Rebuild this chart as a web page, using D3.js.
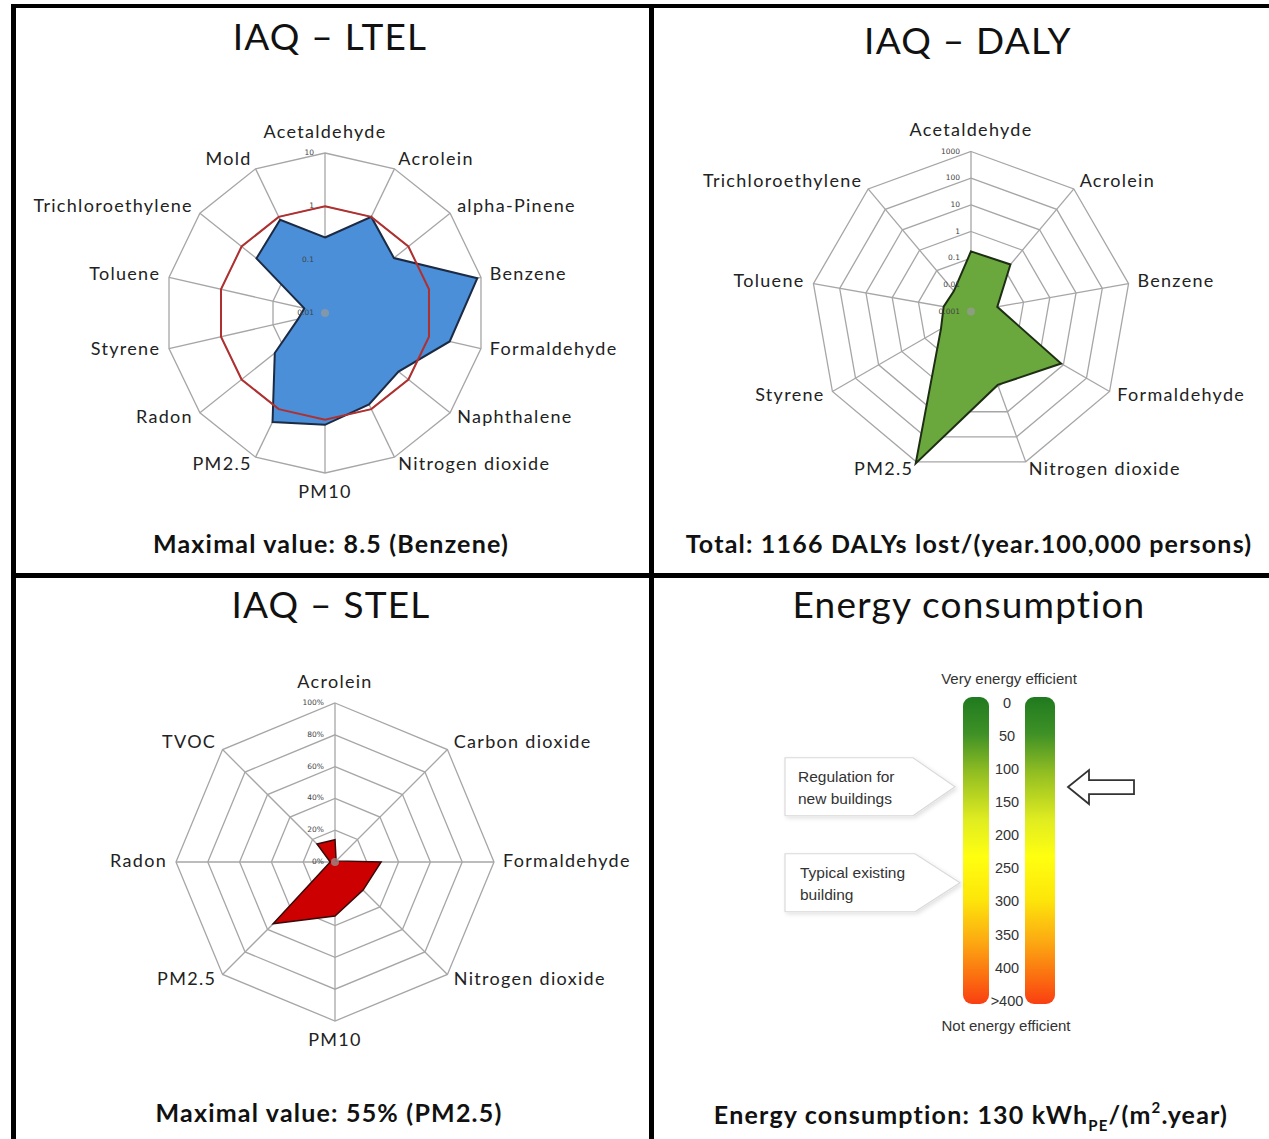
<!DOCTYPE html>
<html><head><meta charset="utf-8">
<script src="https://cdn.jsdelivr.net/npm/d3@7"></script>
<style>
html,body{margin:0;padding:0;background:#fff;}
svg{display:block;}
</style></head>
<body>
<svg id="chart" width="1269" height="1139"></svg>
<script>
// ---------- DATA ----------
const ltelCategories = ["Acetaldehyde","Acrolein","alpha-Pinene","Benzene","Formaldehyde","Naphthalene","Nitrogen dioxide","PM10","PM2.5","Radon","Styrene","Toluene","Trichloroethylene","Mold"];
const ltelValues = [0.26, 1.0, 0.45, 8.5, 2.5, 0.58, 0.8, 1.25, 1.85, 0.16, 0.033, 0.025, 0.44, 0.87];
const ltelLimit = [1,1,1,1,1,1,1,1,1,1,1,1,1,1];
const ltelTicks = [0.01, 0.1, 1, 10];
const ltelTickLabels = ["0.01","0.1","1","10"];

const dalyCategories = ["Acetaldehyde","Acrolein","Benzene","Formaldehyde","Nitrogen dioxide","PM2.5","Styrene","Toluene","Trichloroethylene"];
const dalyValues = [0.18, 0.2, 0.01, 8, 0.85, 1155, 0.02, 0.011, 0.01];
const dalyTicks = [0.001, 0.01, 0.1, 1, 10, 100, 1000];
const dalyTickLabels = ["0.001","0.01","0.1","1","10","100","1000"];

const stelCategories = ["Acrolein","Carbon dioxide","Formaldehyde","Nitrogen dioxide","PM10","PM2.5","Radon","TVOC"];
const stelValues = [14, 1, 29, 25, 34, 55, 3, 16];
const stelTicks = [0, 20, 40, 60, 80, 100];
const stelTickLabels = ["0%","20%","40%","60%","80%","100%"];

const energyTickValues = [0, 50, 100, 150, 200, 250, 300, 350, 400, 450];
const energyTickLabels = ["0","50","100","150","200","250","300","350","400",">400"];
const energyCurrent = 130;
const energyRegulation = 125;
const energyTypical = 270;
const energyCalloutTexts = [["Regulation for","new buildings"],["Typical existing","building"]];

const titles = ["IAQ \u2013 LTEL","IAQ \u2013 DALY","IAQ \u2013 STEL","Energy consumption"];

// ---------- DRAW ----------
const svg = d3.select("#chart");
const LAB_FONT = "Lato, 'Open Sans', sans-serif";

function radar(opt){
  const g = svg.append("g");
  const n = opt.categories.length;
  const ang = i => i * 2 * Math.PI / n;
  const r = opt.scale;
  const pt = (i, rad) => [opt.cx + rad * Math.sin(ang(i)), opt.cy - rad * Math.cos(ang(i))];
  opt.ticks.forEach((t, k) => {
    const rr = r(t);
    if (rr <= 0.5) return;
    g.append("polygon")
      .attr("points", d3.range(n).map(i => pt(i, rr).join(",")).join(" "))
      .attr("fill", "none").attr("stroke", "#a6a6a6").attr("stroke-width", 1.3);
  });
  d3.range(n).forEach(i => {
    const p = pt(i, opt.R);
    g.append("line").attr("x1", opt.cx).attr("y1", opt.cy).attr("x2", p[0]).attr("y2", p[1])
      .attr("stroke", "#a6a6a6").attr("stroke-width", 1.3);
  });
  opt.series.forEach(s => {
    const pts = s.values.map((v, i) => pt(i, Math.max(0, r(v))));
    g.append("polygon").attr("points", pts.map(p => p.join(",")).join(" "))
      .attr("fill", s.fill).attr("stroke", s.stroke).attr("stroke-width", s.sw)
      .attr("stroke-linejoin", "miter");
  });
  g.append("circle").attr("cx", opt.cx).attr("cy", opt.cy).attr("r", 4).attr("fill", "#9a9a9a").attr("opacity", 0.7);
  opt.ticks.forEach((t, k) => {
    g.append("text").attr("x", opt.cx - 11).attr("y", opt.cy - r(t))
      .attr("text-anchor", "end").attr("dominant-baseline", "middle")
      .attr("font-family", "'DejaVu Sans', sans-serif").attr("font-size", 7.5).attr("fill", "#444")
      .text(opt.tickLabels[k]);
  });
  opt.categories.forEach((c, i) => {
    const s = Math.sin(ang(i)), co = Math.cos(ang(i));
    const rr = opt.R + 9;
    let x = opt.cx + rr * s, y = opt.cy - rr * co;
    let anchor = "middle";
    if (Math.abs(s) < 0.1) { y -= co * 11; }
    else if (s > 0) { anchor = "start"; }
    else { anchor = "end"; }
    g.append("text").attr("x", x).attr("y", y).attr("text-anchor", anchor)
      .attr("dominant-baseline", "middle")
      .attr("font-family", LAB_FONT).attr("font-size", 18).attr("letter-spacing", 1.3)
      .attr("fill", "#222").text(c);
  });
}

radar({cx: 325, cy: 313, R: 160, categories: ltelCategories,
  scale: d3.scaleLog().domain([0.01, 10]).range([0, 160]).clamp(true),
  ticks: ltelTicks, tickLabels: ltelTickLabels,
  series: [
    {values: ltelValues, fill: "#4a8fd8", stroke: "#1c2a44", sw: 2},
    {values: ltelLimit, fill: "none", stroke: "#b03030", sw: 2}
  ]});
radar({cx: 971, cy: 311.5, R: 160, categories: dalyCategories,
  scale: d3.scaleLog().domain([0.001, 1000]).range([0, 160]).clamp(false),
  ticks: dalyTicks, tickLabels: dalyTickLabels,
  series: [{values: dalyValues, fill: "#6aa83e", stroke: "#1e2e14", sw: 2}]});
radar({cx: 335, cy: 862, R: 159, categories: stelCategories,
  scale: d3.scaleLinear().domain([0, 100]).range([0, 159]),
  ticks: stelTicks, tickLabels: stelTickLabels,
  series: [{values: stelValues, fill: "#cc0000", stroke: "#3a0a0a", sw: 1.5}]});

// ---------- ENERGY ----------
const ey = d3.scaleLinear().domain([0, 400]).range([704, 968.8]);
const defs = svg.append("defs");
const grad = defs.append("linearGradient").attr("id", "eg").attr("x1", 0).attr("y1", 0).attr("x2", 0).attr("y2", 1);
[["0%","#1f7a1f"],["12%","#3f9126"],["25%","#94bf22"],["40%","#e0ec20"],["52%","#ffff10"],["66%","#fde60a"],["80%","#fca812"],["92%","#fb6a10"],["100%","#f93f12"]]
  .forEach(s => grad.append("stop").attr("offset", s[0]).attr("stop-color", s[1]));
const filt = defs.append("filter").attr("id", "sh").attr("x", "-10%").attr("y", "-20%").attr("width", "130%").attr("height", "150%");
filt.append("feDropShadow").attr("dx", 2).attr("dy", 2).attr("stdDeviation", 2).attr("flood-color", "#000").attr("flood-opacity", 0.12);

const barTop = ey(0) - 7, barBot = ey(450) + 2;
svg.append("rect").attr("x", 963).attr("y", barTop).attr("width", 26).attr("height", barBot - barTop)
  .attr("rx", 9).attr("fill", "url(#eg)");
svg.append("rect").attr("x", 1025).attr("y", barTop).attr("width", 30).attr("height", barBot - barTop)
  .attr("rx", 9).attr("fill", "url(#eg)");
energyTickValues.forEach((v, k) => {
  svg.append("text").attr("x", 1007).attr("y", ey(v)).attr("text-anchor", "middle")
    .attr("dominant-baseline", "middle").attr("font-family", "'Liberation Sans', Arial, sans-serif")
    .attr("font-size", 14.5).attr("fill", "#333").text(energyTickLabels[k]);
});
svg.append("text").attr("x", 1009).attr("y", 680).attr("text-anchor", "middle").attr("dominant-baseline", "middle")
  .attr("font-family", "'Liberation Sans', Arial, sans-serif").attr("font-size", 15).attr("fill", "#333").text("Very energy efficient");
svg.append("text").attr("x", 1006).attr("y", 1027).attr("text-anchor", "middle").attr("dominant-baseline", "middle")
  .attr("font-family", "'Liberation Sans', Arial, sans-serif").attr("font-size", 15).attr("fill", "#333").text("Not energy efficient");

[[energyRegulation, 913, 955], [energyTypical, 915, 960]].forEach((c, k) => {
  const ty = ey(c[0]);
  const top = ty - 29, bot = ty + 29;
  svg.append("polygon").attr("points", [[785, top],[c[1], top],[c[2], ty],[c[1], bot],[785, bot]].map(p => p.join(",")).join(" "))
    .attr("fill", "#fff").attr("stroke", "#d9d9d9").attr("stroke-width", 1.2).attr("filter", "url(#sh)");
  energyCalloutTexts[k].forEach((t, j) => {
    svg.append("text").attr("x", k === 0 ? 798 : 800).attr("y", ty - 9 + j * 22).attr("dominant-baseline", "middle")
      .attr("font-family", "'Liberation Sans', Arial, sans-serif").attr("font-size", 15.5).attr("fill", "#333").text(t);
  });
});
{
  const ay = ey(energyCurrent) - 3;
  svg.append("polygon").attr("points", [[1068, ay],[1089, ay - 17],[1089, ay - 7],[1134, ay - 7],[1134, ay + 7],[1089, ay + 7],[1089, ay + 17]].map(p => p.join(",")).join(" "))
    .attr("fill", "#fff").attr("stroke", "#333").attr("stroke-width", 1.8).attr("stroke-linejoin", "miter");
}

// ---------- TITLES & CAPTIONS ----------
const titlePos = [[330, 41],[968, 45],[331, 609],[969, 609]];
titles.forEach((t, i) => {
  svg.append("text").attr("x", titlePos[i][0]).attr("y", titlePos[i][1]).attr("text-anchor", "middle")
    .attr("dominant-baseline", "middle").attr("font-family", LAB_FONT).attr("font-size", 37)
    .attr("letter-spacing", 1.2).attr("fill", "#111").text(t);
});
function caption(x, y, parts){
  const t = svg.append("text").attr("x", x).attr("y", y).attr("text-anchor", "middle").attr("dominant-baseline", "middle")
    .attr("font-family", LAB_FONT).attr("font-size", 25).attr("letter-spacing", 1.2).attr("font-weight", "bold").attr("fill", "#111");
  parts.forEach(p => {
    const s = t.append("tspan").text(p.t);
    if (p.sub) s.attr("font-size", 15).attr("baseline-shift", "sub");
    if (p.sup) s.attr("font-size", 15).attr("baseline-shift", "super");
  });
}
caption(331, 547, [{t: "Maximal value: 8.5 (Benzene)"}]);
caption(969, 547, [{t: "Total: 1166 DALYs lost/(year.100,000 persons)"}]);
caption(329, 1116, [{t: "Maximal value: 55% (PM2.5)"}]);
caption(971, 1118, [{t: "Energy consumption: 130 kWh"}, {t: "PE", sub: true}, {t: "/(m"}, {t: "2", sup: true}, {t: ".year)"}]);

// ---------- FRAME ----------
const frame = svg.append("g").attr("stroke", "#000").attr("stroke-width", 5);
frame.append("line").attr("x1", 11).attr("y1", 6).attr("x2", 1269).attr("y2", 6).attr("stroke-width", 4);
frame.append("line").attr("x1", 13.5).attr("y1", 4).attr("x2", 13.5).attr("y2", 1139);
frame.append("line").attr("x1", 651.5).attr("y1", 6).attr("x2", 651.5).attr("y2", 1139);
frame.append("line").attr("x1", 13).attr("y1", 575.5).attr("x2", 1269).attr("y2", 575.5);
</script>
</body></html>
